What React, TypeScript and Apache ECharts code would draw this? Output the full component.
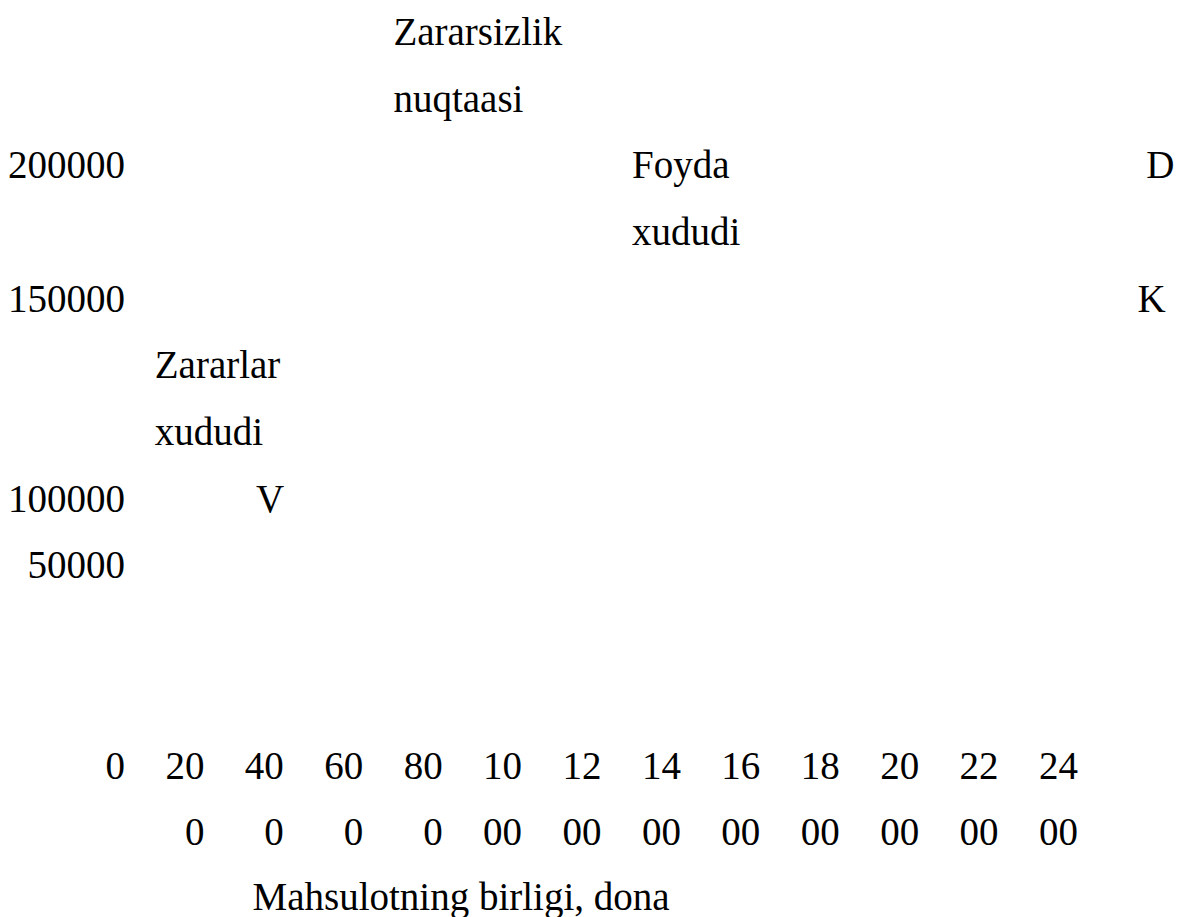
import React, { useEffect, useRef } from "react";
import * as echarts from "echarts";

// x axis: units of product (dona)
const xTicks = [0, 200, 400, 600, 800, 1000, 1200, 1400, 1600, 1800, 2000, 2200, 2400];
// tick labels as they wrap in the reference (upper part / lower part)
const xTickTop = ["0", "20", "40", "60", "80", "10", "12", "14", "16", "18", "20", "22", "24"];
const xTickBottom = ["", "0", "0", "0", "0", "00", "00", "00", "00", "00", "00", "00", "00"];

// y axis: money
const yTicks = [200000, 150000, 100000, 50000];
const yTickLabels = ["200000", "150000", "100000", "50000"];

// annotations: x (dona), y (money), text
const annoX = [676, 1277, 2572, 2550, 75, 330];
const annoY = [237500, 187500, 200000, 150000, 112500, 75000];
const annoText = ["Zararsizlik\nnuqtaasi", "Foyda\nxududi", "D", "K", "Zararlar\nxududi", "V"];

const xAxisTitle = "Mahsulotning birligi, dona";

const FONT = "'Liberation Serif', 'Times New Roman', serif";
const FS = 39;
const LH = 66.67;

export default function App() {
  const ref = useRef<HTMLDivElement>(null);

  useEffect(() => {
    if (!ref.current) return;
    const chart = echarts.init(ref.current, undefined, { renderer: "svg" });
    const option = {
      animation: false,
      backgroundColor: "#ffffff",
      textStyle: { fontFamily: FONT, color: "#000" },
      title: {
        text: xAxisTitle,
        left: 252.5,
        top: 876.5,
        padding: 0,
        textStyle: { fontFamily: FONT, fontSize: FS, fontWeight: "normal", color: "#000", lineHeight: FS },
      },
      grid: { left: 125, right: 100, top: 31.4, bottom: 219, containLabel: false },
      xAxis: {
        type: "value",
        min: 0,
        max: 2400,
        interval: 200,
        axisLine: { show: false },
        axisTick: { show: false },
        splitLine: { show: false },
        axisLabel: {
          show: true,
          margin: 33.7,
          align: "right",
          verticalAlign: "top",
          fontFamily: FONT,
          fontSize: FS,
          lineHeight: LH,
          color: "#000",
          showMinLabel: true,
          showMaxLabel: true,
          formatter: (v: number) => {
            const i = xTicks.indexOf(v);
            if (i < 0) return "";
            return xTickBottom[i] ? xTickTop[i] + "\n" + xTickBottom[i] : xTickTop[i];
          },
        },
      },
      yAxis: {
        type: "value",
        min: 0,
        max: 250000,
        interval: 50000,
        axisLine: { show: false },
        axisTick: { show: false },
        splitLine: { show: false },
        axisLabel: {
          show: true,
          margin: 0,
          align: "right",
          verticalAlign: "middle",
          fontFamily: FONT,
          fontSize: FS,
          lineHeight: LH,
          color: "#000",
          showMinLabel: true,
          showMaxLabel: true,
          formatter: (v: number) => {
            const i = yTicks.indexOf(v);
            if (i < 0) return "";
            // in the reference the 100000 label sits one text line lower
            return v === 100000 ? "\n\n" + yTickLabels[i] : yTickLabels[i];
          },
        },
      },
      series: [
        {
          type: "scatter",
          silent: true,
          clip: false,
          symbol: "circle",
          symbolSize: 1,
          itemStyle: { color: "rgba(255,255,255,0)", opacity: 1 },
          data: annoX.map((x, i) => ({ value: [x, annoY[i]], name: annoText[i] })),
          label: {
            show: true,
            position: "inside",
            align: "left",
            verticalAlign: "middle",
            formatter: "{b}",
            fontFamily: FONT,
            fontSize: FS,
            lineHeight: LH,
            color: "#000",
            opacity: 1,
            textBorderWidth: 0,
          },
        },
      ],
    };
    chart.setOption(option as any);
    return () => chart.dispose();
  }, []);

  return (
    <div
      ref={ref}
      style={{ position: "fixed", left: 0, top: 0, width: "1178px", height: "917px", background: "#fff" }}
    />
  );
}
